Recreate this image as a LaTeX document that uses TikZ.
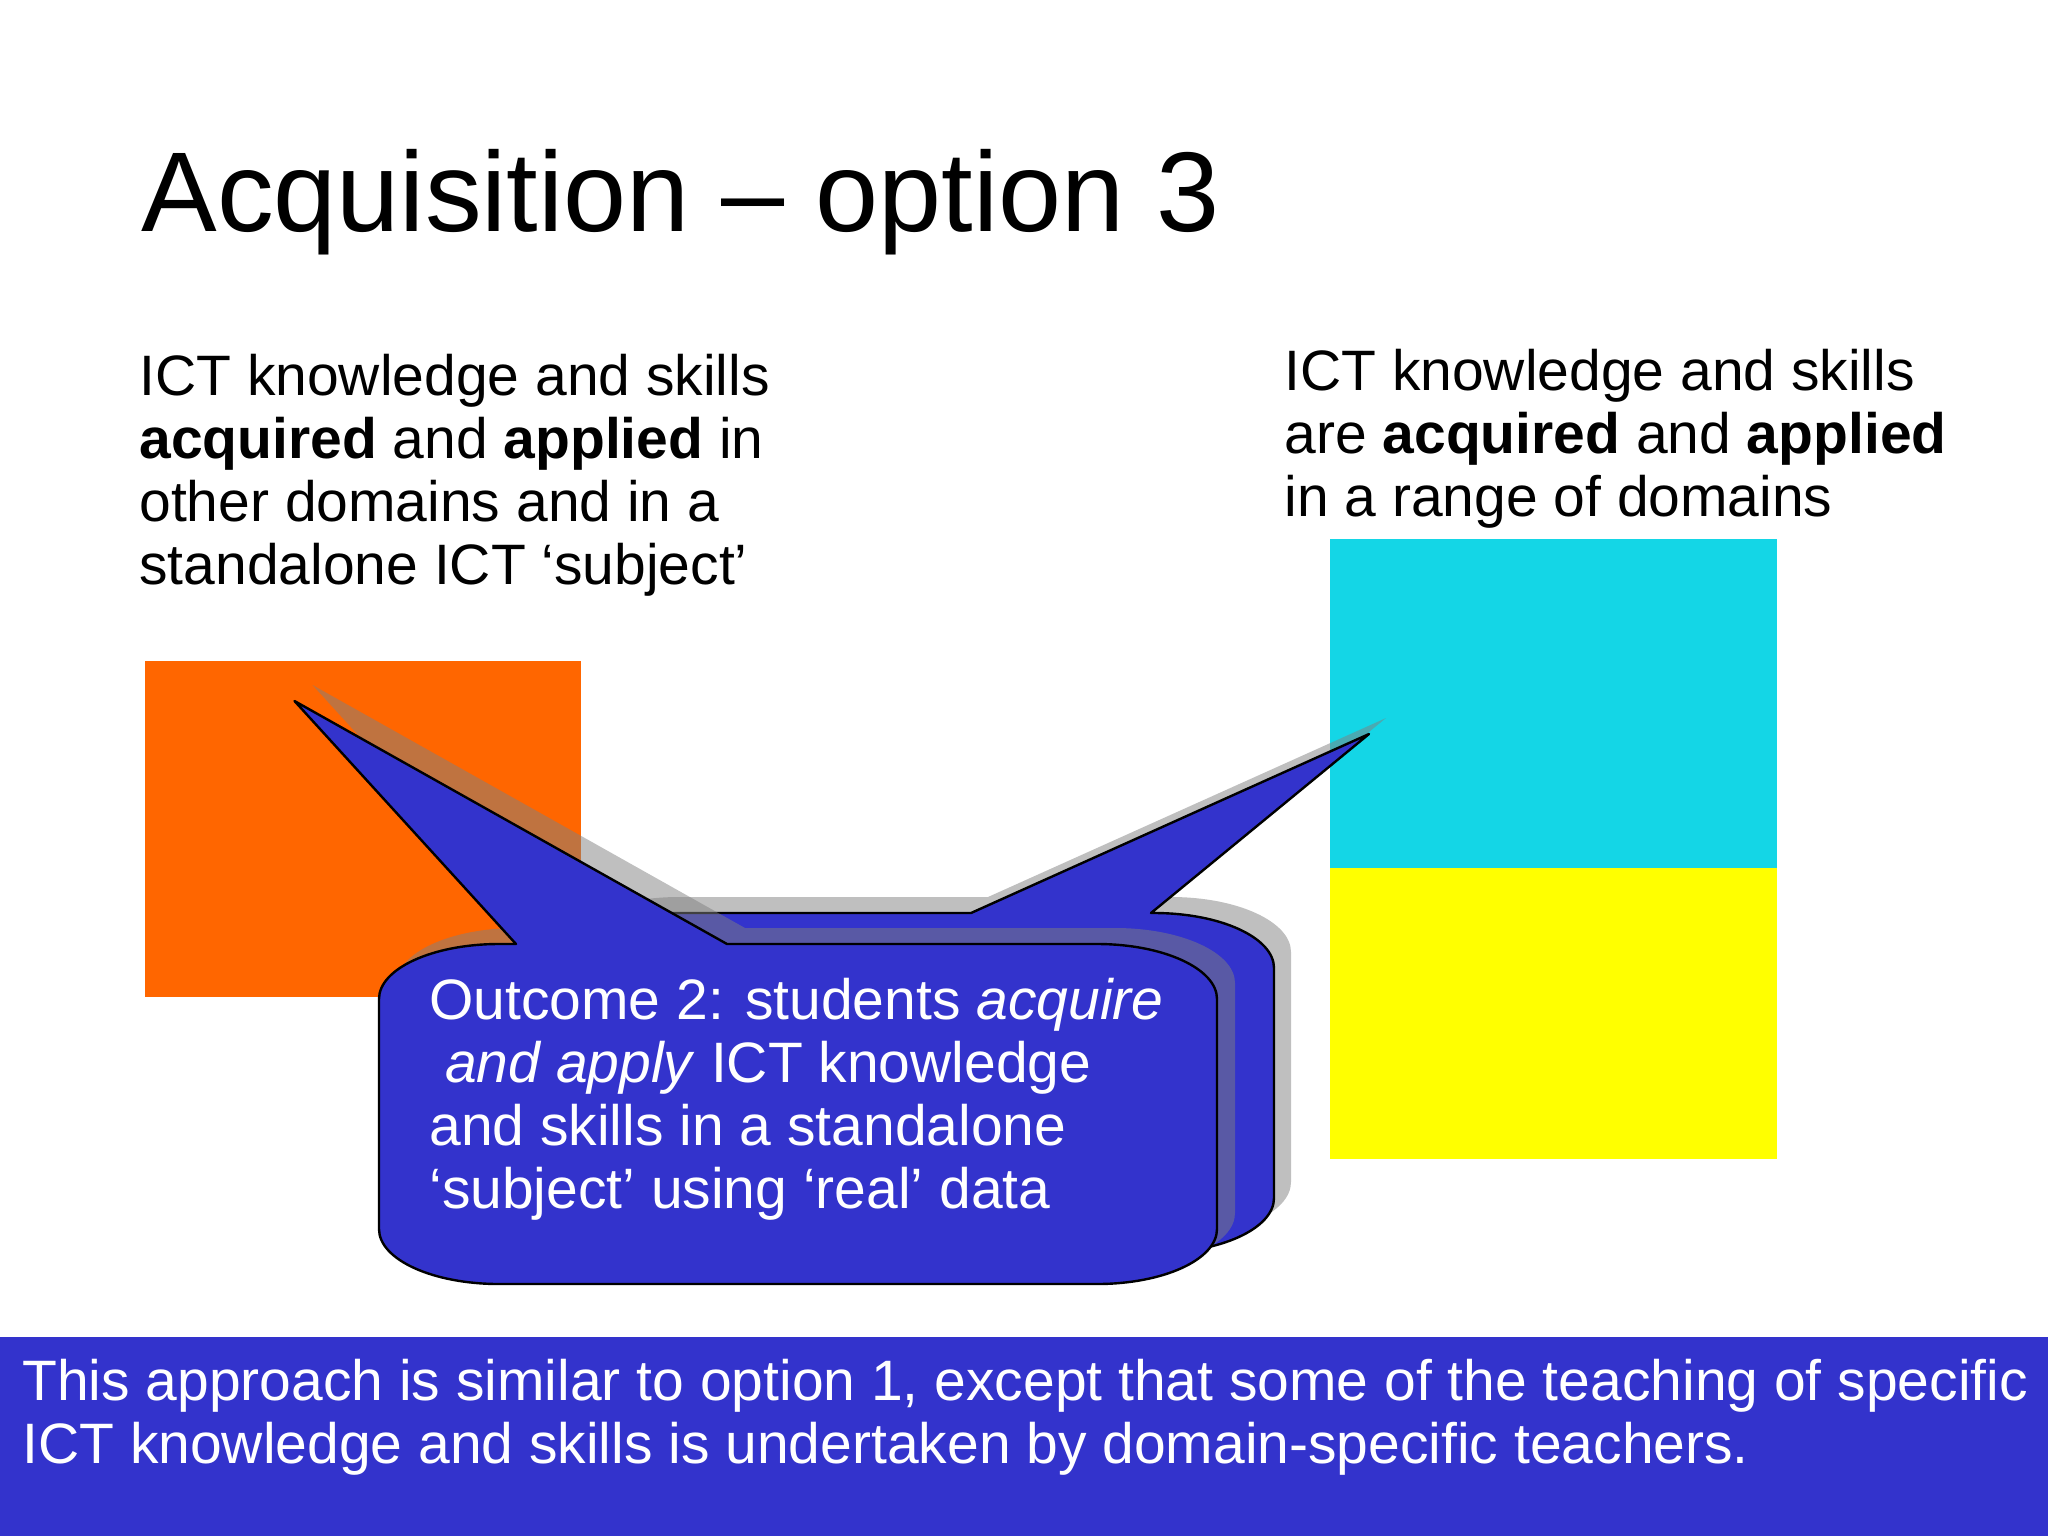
\documentclass[tikz,border=0pt]{standalone}
\usepackage{fontspec}
\setmainfont{Liberation Sans}
\definecolor{calloutblue}{RGB}{51,51,204}
\definecolor{boxorange}{RGB}{255,102,0}
\definecolor{boxcyan}{RGB}{20,214,230}
\definecolor{boxyellow}{RGB}{255,255,0}
\tikzset{
  bodytext/.style={anchor=base west, inner sep=0pt, font=\fontsize{28.5}{31.6}\selectfont},
  titletext/.style={anchor=base west, inner sep=0pt, font=\fontsize{56.7}{60}\selectfont},
  calloutfill/.style={fill=calloutblue, draw=black, line width=1.2pt, line join=round},
  shadowfill/.style={fill=gray, fill opacity=0.5},
  % callout A: rounded body with spike to the upper left
  calloutA/.style={insert path={
    (379,999) .. controls (379,968.6) and (432.7,944) .. (499,944)
    -- (516,944) -- (294.5,701) -- (727,944) -- (1097,944)
    .. controls (1163.3,944) and (1217,968.6) .. (1217,999)
    -- (1217,1229) .. controls (1217,1259.6) and (1163.3,1284) .. (1097,1284)
    -- (499,1284) .. controls (432.7,1284) and (379,1259.6) .. (379,1229) -- cycle}},
  % callout B: narrower body behind, with spike to the upper right
  calloutB/.style={insert path={
    (542,968) .. controls (542,937.6) and (595.7,913) .. (662,913)
    -- (971,913) -- (1369,734) -- (1151,913) -- (1154,913)
    .. controls (1220.3,913) and (1274,937.6) .. (1274,968)
    -- (1274,1198) .. controls (1274,1228.6) and (1220.3,1253) .. (1154,1253)
    -- (662,1253) .. controls (595.7,1253) and (542,1228.6) .. (542,1198) -- cycle}}
}
\begin{document}
\begin{tikzpicture}[x=0.5pt, y=-0.5pt]
\useasboundingbox (0,0) rectangle (2048,1536);
\fill[white] (0,0) rectangle (2048,1536);

% title
\node[titletext] (title) at (141,231) {Acquisition – option 3};

% left description
\node[bodytext] (lefttext) at (139,395) {\begin{tabular}[t]{@{}l@{}}
ICT knowledge and skills\\
\textbf{acquired} and \textbf{applied} in\\
other domains and in a\\
standalone ICT ‘subject’
\end{tabular}};

% right description
\node[bodytext] (righttext) at (1284,390) {\begin{tabular}[t]{@{}l@{}}
ICT knowledge and skills\\
are \textbf{acquired} and \textbf{applied}\\
in a range of domains
\end{tabular}};

% coloured blocks
\fill[boxorange] (145,661) rectangle (581,997);
\fill[boxcyan] (1330,539) rectangle (1777,868);
\fill[boxyellow] (1330,868) rectangle (1777,1159);

% callout B (behind) with its shadow
\begin{scope}[shift={(17,-16)}]
  \fill[shadowfill, calloutB];
\end{scope}
\path[calloutfill, calloutB];

% callout A (front) with its shadow
\begin{scope}[shift={(18,-16)}]
  \fill[shadowfill, calloutA];
\end{scope}
\path[calloutfill, calloutA];

\node[bodytext, text=white] (callouttext) at (429,1019) {\begin{tabular}[t]{@{}l@{}}
Outcome 2: students \textit{acquire}\\
\ \textit{and apply} ICT knowledge\\
and skills in a standalone\\
‘subject’ using ‘real’ data
\end{tabular}};

% bottom banner
\fill[calloutblue] (0,1337) rectangle (2048,1536);
\node[bodytext, text=white] (bannertext) at (22,1400) {\begin{tabular}[t]{@{}l@{}}
This approach is similar to option 1, except that some of the teaching of specific\\
ICT knowledge and skills is undertaken by domain-specific teachers.
\end{tabular}};
\end{tikzpicture}
\end{document}
